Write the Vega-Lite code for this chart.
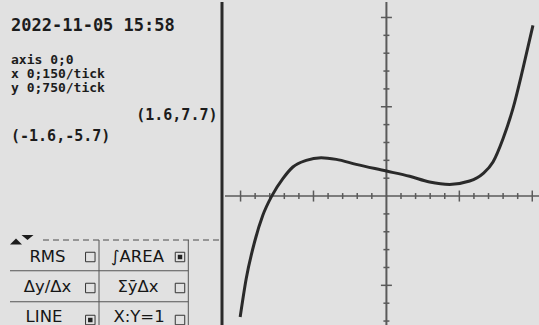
{
  "$schema": "https://vega.github.io/schema/vega-lite/v6.json",
  "background": "#e1e1e1",
  "padding": 0,
  "spacing": 0,
  "config": {"view": {"stroke": null}, "concat": {"spacing": 0}},
  "resolve": {"scale": {"x": "independent", "y": "independent", "shape": "independent", "size": "independent"}},
  "hconcat": [
    {
      "width": 222,
      "height": 325,
      "encoding": {
        "x": {"field": "col", "type": "quantitative", "scale": {"domain": [0, 22.2], "nice": false, "zero": false}, "axis": null},
        "y": {"field": "row", "type": "quantitative", "scale": {"domain": [0, 26], "nice": false, "zero": false, "reverse": true}, "axis": null}
      },
      "layer": [
        {
          "data": {"values": [{"t": "2022-11-05 15:58", "col": 1.1, "row": 1.88}]},
          "mark": {"type": "text", "align": "left", "baseline": "middle", "font": "DejaVu Sans Mono", "fontWeight": "bold", "fontSize": 17, "color": "#1c1c1c"},
          "encoding": {"text": {"field": "t"}}
        },
        {
          "data": {"values": [
            {"t": "axis 0;0", "col": 1.1, "row": 4.62},
            {"t": "x 0;150/tick", "col": 1.1, "row": 5.76},
            {"t": "y 0;750/tick", "col": 1.1, "row": 6.9}
          ]},
          "mark": {"type": "text", "align": "left", "baseline": "middle", "font": "DejaVu Sans Mono", "fontWeight": "bold", "fontSize": 13, "color": "#1c1c1c"},
          "encoding": {"text": {"field": "t"}}
        },
        {
          "data": {"values": [{"t": "(1.6,7.7)", "col": 21.75, "row": 9.0}]},
          "mark": {"type": "text", "align": "right", "baseline": "middle", "font": "DejaVu Sans Mono", "fontWeight": "bold", "fontSize": 15, "color": "#1c1c1c"},
          "encoding": {"text": {"field": "t"}}
        },
        {
          "data": {"values": [{"t": "(-1.6,-5.7)", "col": 1.1, "row": 10.72}]},
          "mark": {"type": "text", "align": "left", "baseline": "middle", "font": "DejaVu Sans Mono", "fontWeight": "bold", "fontSize": 15, "color": "#1c1c1c"},
          "encoding": {"text": {"field": "t"}}
        },
        {
          "data": {"values": [{"col": 4.3, "col2": 22.2, "row": 19.04}]},
          "mark": {"type": "rule", "color": "#4a4a4a", "strokeWidth": 1, "strokeDash": [6, 4]},
          "encoding": {"x2": {"field": "col2"}}
        },
        {
          "data": {"values": [
            {"col": 1.0, "col2": 18.83, "row": 21.5},
            {"col": 1.0, "col2": 18.83, "row": 23.98}
          ]},
          "mark": {"type": "rule", "color": "#555555", "strokeWidth": 1},
          "encoding": {"x2": {"field": "col2"}}
        },
        {
          "data": {"values": [
            {"col": 9.9, "row": 19.04, "row2": 26},
            {"col": 18.83, "row": 19.04, "row2": 26}
          ]},
          "mark": {"type": "rule", "color": "#555555", "strokeWidth": 1},
          "encoding": {"y2": {"field": "row2"}}
        },
        {
          "data": {"values": [{"col": 22.2}]},
          "mark": {"type": "rule", "color": "#2a2a2a", "strokeWidth": 3},
          "encoding": {"y": {"value": 0}, "y2": {"value": 325}}
        },
        {
          "data": {"values": [
            {"dir": "up", "col": 1.6, "row": 19.16},
            {"dir": "down", "col": 2.75, "row": 18.84}
          ]},
          "mark": {"type": "point", "filled": true, "size": 144, "color": "#1c1c1c", "opacity": 1},
          "encoding": {"shape": {"field": "dir", "type": "nominal", "scale": {"domain": ["up", "down"], "range": ["M-1,0.5L0,-0.5L1,0.5Z", "M-1,-0.4L0,0.4L1,-0.4Z"]}, "legend": null}}
        },
        {
          "data": {"values": [
            {"t": "RMS", "col": 4.75, "row": 20.36},
            {"t": "Δy/Δx", "col": 4.75, "row": 22.8},
            {"t": "LINE", "col": 4.4, "row": 25.22},
            {"t": "∫AREA", "col": 13.75, "row": 20.36},
            {"t": "Σȳ​Δx", "col": 13.8, "row": 22.8},
            {"t": "X:Y=1", "col": 13.9, "row": 25.22}
          ]},
          "mark": {"type": "text", "align": "center", "baseline": "middle", "font": "DejaVu Sans", "fontSize": 16.5, "color": "#161616"},
          "encoding": {"text": {"field": "t"}}
        },
        {
          "data": {"values": [
            {"item": "RMS", "checked": false, "col": 9.03, "row": 20.4},
            {"item": "AREA", "checked": true, "col": 18.0, "row": 20.4},
            {"item": "dydx", "checked": false, "col": 9.03, "row": 22.88},
            {"item": "sum", "checked": false, "col": 18.0, "row": 22.88},
            {"item": "LINE", "checked": true, "col": 9.03, "row": 25.44},
            {"item": "XY", "checked": false, "col": 18.0, "row": 25.44}
          ]},
          "layer": [
            {
              "mark": {"type": "square", "filled": false, "size": 90, "color": "#333333", "strokeWidth": 1, "opacity": 1}
            },
            {
              "transform": [{"filter": "datum.checked"}],
              "mark": {"type": "square", "filled": true, "size": 20, "color": "#222222", "opacity": 1}
            }
          ]
        }
      ]
    },
    {
      "width": 317,
      "height": 325,
      "encoding": {
        "x": {"field": "x", "type": "quantitative", "scale": {"domain": [-1.66, 1.6], "nice": false, "zero": false}, "axis": null},
        "y": {"field": "y", "type": "quantitative", "scale": {"domain": [-5.5, 8.15], "nice": false, "zero": false}, "axis": null}
      },
      "layer": [
        {
          "data": {"values": [{"y": 0}]},
          "mark": {"type": "rule", "color": "#5a5a5a", "strokeWidth": 1.5},
          "encoding": {"x": {"value": 0}, "x2": {"value": 317}}
        },
        {
          "data": {"values": [{"x": 0}]},
          "mark": {"type": "rule", "color": "#5a5a5a", "strokeWidth": 2},
          "encoding": {"y": {"value": 0}, "y2": {"value": 325}}
        },
        {
          "data": {"values": [
            {"x": -1.5, "y": 0, "major": true}, {"x": -1.35, "y": 0, "major": false}, {"x": -1.2, "y": 0, "major": false}, {"x": -1.05, "y": 0, "major": false}, {"x": -0.9, "y": 0, "major": false},
            {"x": -0.75, "y": 0, "major": true}, {"x": -0.6, "y": 0, "major": false}, {"x": -0.45, "y": 0, "major": false}, {"x": -0.3, "y": 0, "major": false}, {"x": -0.15, "y": 0, "major": false},
            {"x": 0.15, "y": 0, "major": false}, {"x": 0.3, "y": 0, "major": false}, {"x": 0.45, "y": 0, "major": false}, {"x": 0.6, "y": 0, "major": false},
            {"x": 0.75, "y": 0, "major": true}, {"x": 0.9, "y": 0, "major": false}, {"x": 1.05, "y": 0, "major": false}, {"x": 1.2, "y": 0, "major": false}, {"x": 1.35, "y": 0, "major": false},
            {"x": 1.5, "y": 0, "major": true}
          ]},
          "layer": [
            {
              "transform": [{"filter": "!datum.major"}],
              "mark": {"type": "point", "shape": "M0,-1L0,1", "size": 36, "filled": false, "strokeWidth": 1.5, "color": "#5a5a5a", "opacity": 1}
            },
            {
              "transform": [{"filter": "datum.major"}],
              "mark": {"type": "point", "shape": "M0,-1L0,1", "size": 121, "filled": false, "strokeWidth": 1.5, "color": "#5a5a5a", "opacity": 1}
            }
          ]
        },
        {
          "data": {"values": [
            {"x": 0, "y": -5.25, "major": false}, {"x": 0, "y": -4.5, "major": false}, {"x": 0, "y": -3.75, "major": true}, {"x": 0, "y": -3.0, "major": false}, {"x": 0, "y": -2.25, "major": false},
            {"x": 0, "y": -1.5, "major": false}, {"x": 0, "y": -0.75, "major": false},
            {"x": 0, "y": 0.75, "major": false}, {"x": 0, "y": 1.5, "major": false}, {"x": 0, "y": 2.25, "major": false}, {"x": 0, "y": 3.0, "major": false},
            {"x": 0, "y": 3.75, "major": true}, {"x": 0, "y": 4.5, "major": false}, {"x": 0, "y": 5.25, "major": false}, {"x": 0, "y": 6.0, "major": false}, {"x": 0, "y": 6.75, "major": false},
            {"x": 0, "y": 7.5, "major": true}
          ]},
          "layer": [
            {
              "transform": [{"filter": "!datum.major"}],
              "mark": {"type": "point", "shape": "M-1,0L1,0", "size": 36, "filled": false, "strokeWidth": 1.5, "color": "#5a5a5a", "opacity": 1}
            },
            {
              "transform": [{"filter": "datum.major"}],
              "mark": {"type": "point", "shape": "M-1,0L1,0", "size": 121, "filled": false, "strokeWidth": 1.5, "color": "#5a5a5a", "opacity": 1}
            }
          ]
        },
        {
          "data": {"values": [
            {"x": -1.504, "y": -5.08},
            {"x": -1.442, "y": -3.47},
            {"x": -1.356, "y": -1.93},
            {"x": -1.271, "y": -0.81},
            {"x": -1.175, "y": 0.03},
            {"x": -1.065, "y": 0.73},
            {"x": -0.962, "y": 1.22},
            {"x": -0.825, "y": 1.5},
            {"x": -0.671, "y": 1.61},
            {"x": -0.516, "y": 1.54},
            {"x": -0.311, "y": 1.33},
            {"x": 0.0, "y": 1.05},
            {"x": 0.239, "y": 0.83},
            {"x": 0.444, "y": 0.59},
            {"x": 0.65, "y": 0.49},
            {"x": 0.856, "y": 0.63},
            {"x": 0.993, "y": 0.94},
            {"x": 1.096, "y": 1.43},
            {"x": 1.199, "y": 2.41},
            {"x": 1.301, "y": 3.67},
            {"x": 1.404, "y": 5.35},
            {"x": 1.507, "y": 7.17}
          ]},
          "mark": {"type": "line", "color": "#2a2a2a", "strokeWidth": 3, "interpolate": "monotone"},
          "encoding": {"order": {"field": "x", "type": "quantitative"}}
        }
      ]
    }
  ]
}
